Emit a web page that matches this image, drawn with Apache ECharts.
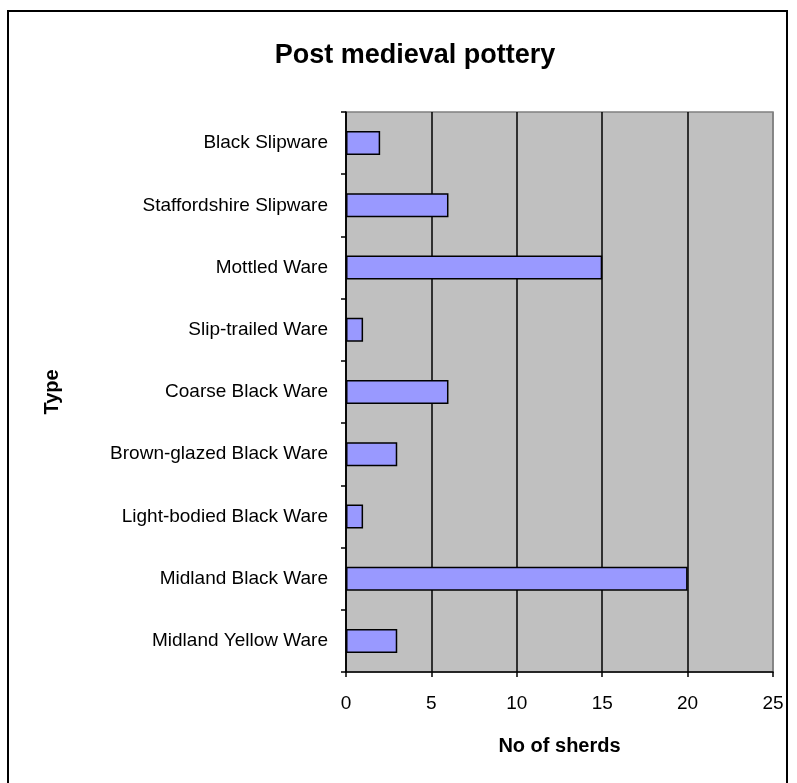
<!DOCTYPE html>
<html>
<head>
<meta charset="utf-8">
<script src="https://cdn.jsdelivr.net/npm/echarts@6/dist/echarts.min.js"></script>
<style>
  html, body { margin: 0; padding: 0; background: #fff; }
  #chart { width: 797px; height: 783px; }
</style>
</head>
<body>
<div id="chart"></div>
<script>
// categories top to bottom, as in the picture
const types = [
  "Black Slipware",
  "Staffordshire Slipware",
  "Mottled Ware",
  "Slip-trailed Ware",
  "Coarse Black Ware",
  "Brown-glazed Black Ware",
  "Light-bodied Black Ware",
  "Midland Black Ware",
  "Midland Yellow Ware"
];
const sherds = [2, 6, 15, 1, 6, 3, 1, 20, 3];

const font = "Liberation Sans, Arial, sans-serif";

let myChart = echarts.init(document.getElementById("chart"));
myChart.setOption({
  animation: false,
  backgroundColor: "#fff",
  textStyle: { fontFamily: font },
  title: {
    text: "Post medieval pottery",
    left: 410,
    textAlign: "center",
    top: 37,
    textStyle: { fontSize: 27, fontWeight: "bold", color: "#000", fontFamily: font }
  },
  graphic: [
    {
      type: "rect",
      shape: { x: 8, y: 11, width: 779, height: 790 },
      style: { fill: null, stroke: "#000", lineWidth: 2 },
      silent: true
    }
  ],
  grid: {
    left: 346,
    right: 24,
    top: 112,
    bottom: 111,
    show: true,
    backgroundColor: "#c0c0c0",
    borderColor: "#808080",
    borderWidth: 1.5
  },
  xAxis: {
    type: "value",
    min: 0,
    max: 25,
    interval: 5,
    name: "No of sherds",
    nameLocation: "middle",
    nameGap: 64,
    nameTextStyle: { fontSize: 20, fontWeight: "bold", color: "#000" },
    axisLine: { show: true, lineStyle: { color: "#000", width: 1.5 } },
    axisTick: { show: true, length: 5, lineStyle: { color: "#000", width: 1.5 } },
    axisLabel: { fontSize: 19, color: "#000", margin: 22 },
    splitLine: {
      show: true,
      lineStyle: { color: ["#000", "#000", "#000", "#000", "#000", "#808080"], width: 1.5 }
    }
  },
  yAxis: {
    type: "category",
    data: types,
    inverse: true,
    name: "Type",
    nameLocation: "middle",
    nameGap: 284,
    nameRotate: 90,
    nameTextStyle: { fontSize: 20, fontWeight: "bold", color: "#000" },
    axisLine: { show: true, lineStyle: { color: "#000", width: 1.5 } },
    axisTick: { show: true, length: 5, lineStyle: { color: "#000", width: 1.5 } },
    axisLabel: { fontSize: 19, color: "#000", margin: 18 },
    splitLine: { show: false }
  },
  series: [
    {
      name: "No of sherds",
      type: "bar",
      data: sherds,
      barWidth: 24,
      itemStyle: { color: "#9999ff", borderColor: "#000", borderWidth: 1.5 }
    }
  ]
});
</script>
</body>
</html>
